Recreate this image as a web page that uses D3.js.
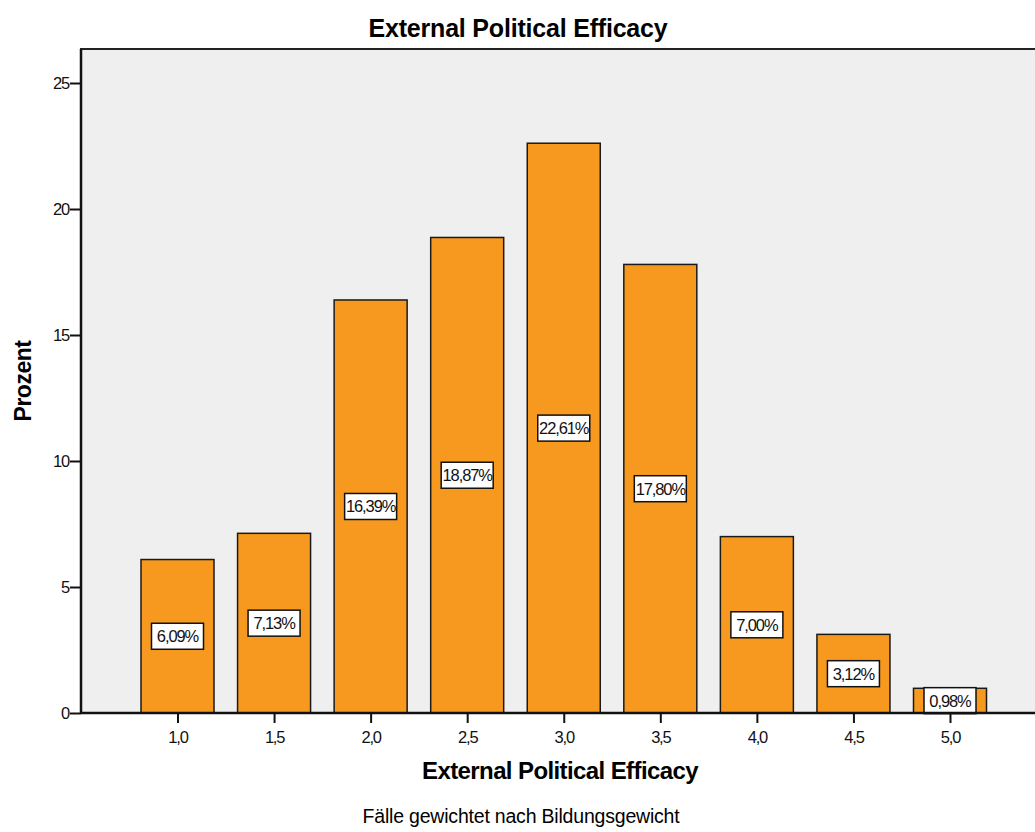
<!DOCTYPE html>
<html>
<head>
<meta charset="utf-8">
<script src="https://cdn.jsdelivr.net/npm/d3@7"></script>
<style>
  html, body { margin: 0; padding: 0; background: #fff; }
  svg { display: block; font-family: "Liberation Sans", Arial, sans-serif; }
</style>
</head>
<body>
<script>
// Distribution of the "External Political Efficacy" index (weighted percent)
const categories = [1.0, 1.5, 2.0, 2.5, 3.0, 3.5, 4.0, 4.5, 5.0];
const percents   = [6.09, 7.13, 16.39, 18.87, 22.61, 17.80, 7.00, 3.12, 0.98];
const yTicks     = [0, 5, 10, 15, 20, 25];

const W = 1035, H = 832;
const plot = { left: 81, top: 49, right: 1040, bottom: 713 };

const svg = d3.select("body").append("svg").attr("width", W).attr("height", H);

const x = d3.scaleLinear().domain([1.0, 5.0]).range([177.5, 950]);
const y = d3.scaleLinear().domain([0, 25]).range([plot.bottom, 83]);
const barW = 73;
const fmt = v => d3.format(".2f")(v).replace(".", ",") + "%";
const fmtTick = v => d3.format(".1f")(v).replace(".", ",");

// plot background
svg.append("rect")
  .attr("x", plot.left).attr("y", plot.top)
  .attr("width", plot.right - plot.left).attr("height", plot.bottom - plot.top)
  .attr("fill", "#efefef").attr("stroke", "#222").attr("stroke-width", 2);

// bars
svg.append("g").selectAll("rect").data(percents).join("rect")
  .attr("x", (d, i) => x(categories[i]) - barW / 2)
  .attr("y", d => y(d))
  .attr("width", barW)
  .attr("height", d => y(0) - y(d))
  .attr("fill", "#f7991f")
  .attr("stroke", "#1a1a1a")
  .attr("stroke-width", 1.5);

// value labels in the middle of each bar
const lab = svg.append("g").selectAll("g").data(percents).join("g")
  .attr("transform", (d, i) => `translate(${x(categories[i])},${y(d / 2)})`);
lab.append("rect")
  .attr("x", -26).attr("y", -13).attr("width", 52).attr("height", 26)
  .attr("fill", "#fff").attr("stroke", "#111").attr("stroke-width", 1.5);
lab.append("text")
  .attr("text-anchor", "middle").attr("dy", "0.36em")
  .attr("font-size", 16.5).attr("letter-spacing", "-1.1px")
  .attr("fill", "#111")
  .text(d => fmt(d));

// axes
const yAxis = d3.axisLeft(y).tickValues(yTicks).tickSize(11).tickPadding(1).tickFormat(d3.format("d"));
const gy = svg.append("g").attr("transform", `translate(${plot.left},0)`).call(yAxis);
const xAxis = d3.axisBottom(x).tickValues(categories).tickSize(10).tickPadding(8).tickFormat(fmtTick);
const gx = svg.append("g").attr("transform", `translate(0,${plot.bottom})`).call(xAxis);
[gy, gx].forEach(g => {
  g.select(".domain").remove();
  g.selectAll(".tick line").attr("stroke", "#111").attr("stroke-width", 2);
  g.selectAll(".tick text").attr("font-size", 16.5).attr("letter-spacing", "-1.2px")
    .attr("fill", "#111").attr("font-family", "Liberation Sans, Arial, sans-serif");
});
// axis lines
svg.append("line").attr("x1", plot.left).attr("x2", plot.left)
  .attr("y1", plot.top).attr("y2", plot.bottom).attr("stroke", "#111").attr("stroke-width", 2.5);
svg.append("line").attr("x1", plot.left).attr("x2", W)
  .attr("y1", plot.bottom).attr("y2", plot.bottom).attr("stroke", "#111").attr("stroke-width", 2.5);

// titles
svg.append("text").attr("x", 518).attr("y", 37).attr("text-anchor", "middle")
  .attr("font-size", 25).attr("font-weight", "bold").attr("letter-spacing", "-0.2px")
  .text("External Political Efficacy");
svg.append("text").attr("x", 560).attr("y", 779).attr("text-anchor", "middle")
  .attr("font-size", 24).attr("font-weight", "bold").attr("letter-spacing", "-0.6px")
  .text("External Political Efficacy");
svg.append("text").attr("x", 521).attr("y", 823).attr("text-anchor", "middle")
  .attr("font-size", 19.5).attr("letter-spacing", "-0.2px")
  .text("Fälle gewichtet nach Bildungsgewicht");
svg.append("text").attr("transform", "translate(31,381) rotate(-90)")
  .attr("text-anchor", "middle")
  .attr("font-size", 23).attr("font-weight", "bold").attr("letter-spacing", "-0.5px")
  .text("Prozent");
</script>
</body>
</html>
